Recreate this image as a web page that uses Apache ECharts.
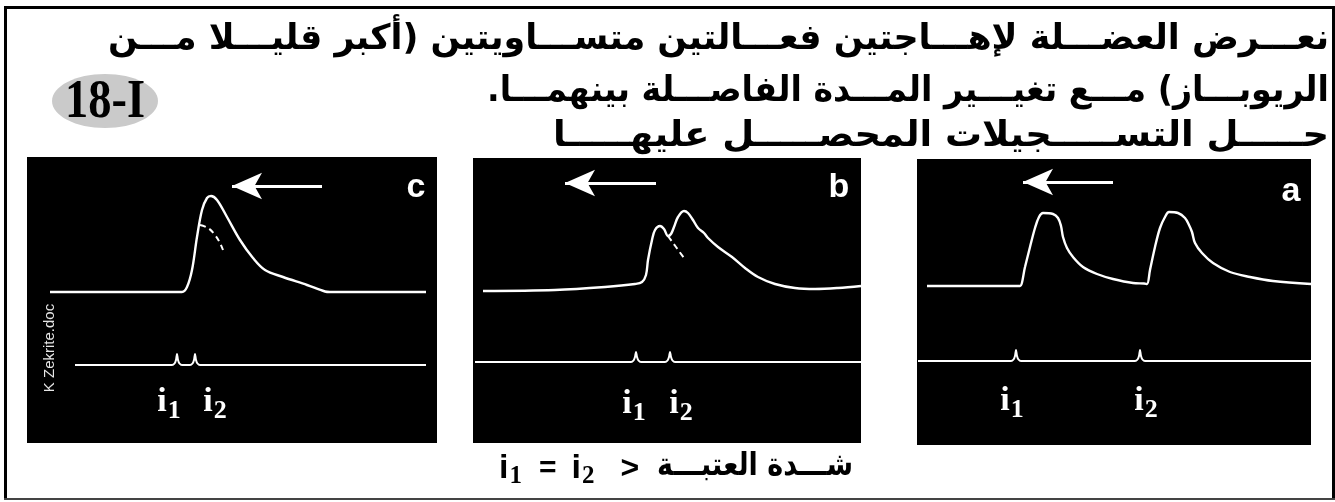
<!DOCTYPE html>
<html>
<head>
<meta charset="utf-8">
<script src="https://cdn.jsdelivr.net/npm/echarts@6/dist/echarts.min.js"></script>
<style>
  html, body { margin: 0; padding: 0; background: #fff; }
  #chart { width: 1335px; height: 502px; }
</style>
</head>
<body>
<div id="chart"></div>
<script>
// Muscle recordings: upper trace = contraction, lower trace = stimulation marks.
// Time runs along x, amplitude along y (arbitrary units, per panel).

// Panel a: two stimuli far apart -> two separate twitches
const twitchA = [[10,159],[100,159],[103,159],[108,178],[113,198],[118,217],[122,228],[126,232],[136,231],[141,227],[144,219],[146,208],[150,197],[156,188],[166,178],[180,171],[196,166],[216,162],[227,161.5],[230,161],[233,175],[238,198],[243,217],[248,228],[252,233],[261,232],[268,227],[272,220],[275,213],[278,202],[285,192],[296,182],[313,173],[333,168],[356,164],[394,161]];
const stimA = [[1,84],[94,84],[96.5,85.5],[98,89],[99,95],[100,89],[101.5,85.5],[104,84],[218,84],[220.5,85.5],[222,89],[223,95],[224,89],[225.5,85.5],[228,84],[394,84]];
const stimLabelsA = [[95,44,'1'],[229,44,'2']];
const arrowA = [196,106,263];

// Panel b: second stimulus during the first twitch -> incomplete fusion
const twitchB = [[10,152],[82,153],[132,156],[162,159],[169,161],[173,168],[175,183],[179,203],[182,213],[187,217],[191,214],[195,207],[198,209],[201,216],[205,226],[211,232],[215,230],[220,223],[225,215],[231,210],[235,205],[245,196],[259,186],[272,175],[285,166],[302,159],[322,155],[342,154],[365,155],[388,157]];
const decayB = [[195,207],[203,196],[211,185]];
const stimB = [[2,81],[158,81],[160.5,82.5],[162,86],[163,91],[164,86],[165.5,82.5],[168,81],[192,81],[194.5,82.5],[196,86],[197,91],[198,86],[199.5,82.5],[202,81],[388,81]];
const stimLabelsB = [[161,39,'1'],[208,39,'2']];
const arrowB = [183,92,260];

// Panel c: stimuli very close -> complete fusion into one larger contraction
const twitchC = [[23,151],[148,151],[155,151],[160,156],[165,173],[170,206],[175,233],[180,245],[184,247],[190,243],[200,226],[213,203],[226,185],[238,173],[256,166],[280,158],[298,151.5],[303,151],[308,151],[399,151]];
const decayC = [[173,218],[181,215],[188,208],[193,200],[196,193]];
const stimC = [[48,78],[145,78],[147.5,79.5],[149,83],[150,89],[151,83],[152.5,79.5],[155,78],[163,78],[165.5,79.5],[167,83],[168,89],[169,83],[170.5,79.5],[173,78],[399,78]];
const stimLabelsC = [[142,41,'1'],[188,41,'2']];
const arrowC = [295,205,257];

// Texts
const headerLines = [
  'نعـــرض العضـــلة لإهـــاجتين فعـــالتين متســـاويتين (أكبر قليـــلا مـــن',
  'الريوبـــاز) مـــع تغيـــير المـــدة الفاصـــلة بينهمـــا.',
  'حـــــل التســـــجيلات المحصـــــل عليهـــــا'
];
const badgeText = '18-I';
const panelLetters = ['a', 'b', 'c'];
const captionArabic = 'شـــدة العتبـــة';
const watermark = 'K Zekrite.doc';

// Panel frames (pixel boxes of the black recording areas)
const panels = [
  { left: 917, top: 159, width: 394, height: 286, twitch: twitchA, stim: stimA, labels: stimLabelsA, arrow: arrowA, letterPos: [1291, 192] },
  { left: 473, top: 158, width: 388, height: 285, twitch: twitchB, stim: stimB, labels: stimLabelsB, arrow: arrowB, decay: decayB, letterPos: [839, 188] },
  { left: 27,  top: 157, width: 410, height: 286, twitch: twitchC, stim: stimC, labels: stimLabelsC, arrow: arrowC, decay: decayC, letterPos: [416, 188] }
];

const RLM = '\u200F';
const measureCtx = document.createElement('canvas').getContext('2d');
function textWidth(text, font) {
  measureCtx.font = font;
  return measureCtx.measureText(text).width;
}
// Right-anchored text line stretched horizontally to span a given width
function fittedLine(text, font, right, y, width) {
  const s = width / textWidth(text, font);
  return { type: 'text', x: right, y: y, scaleX: s, style: { text: text, fill: '#000', font: font, align: 'right', verticalAlign: 'middle' } };
}

const chart = echarts.init(document.getElementById('chart'), null, { renderer: 'canvas' });

const grids = [], xAxes = [], yAxes = [], series = [];
panels.forEach((p, i) => {
  grids.push({ left: p.left, top: p.top, width: p.width, height: p.height, show: true, backgroundColor: '#000', borderWidth: 0 });
  xAxes.push({ type: 'value', gridIndex: i, min: 0, max: p.width, show: false, splitLine: { show: false } });
  yAxes.push({ type: 'value', gridIndex: i, min: 0, max: p.height, show: false, splitLine: { show: false } });
  series.push({
    type: 'line', xAxisIndex: i, yAxisIndex: i, data: p.twitch, showSymbol: false, symbol: 'none',
    smooth: 0.35, lineStyle: { color: '#fff', width: 2.4 }, silent: true
  });
  if (p.decay) {
    series.push({
      type: 'line', xAxisIndex: i, yAxisIndex: i, data: p.decay, showSymbol: false, symbol: 'none',
      smooth: 0.4, lineStyle: { color: '#fff', width: 2, type: [6, 4] }, silent: true
    });
  }
  series.push({
    type: 'line', xAxisIndex: i, yAxisIndex: i, data: p.stim, showSymbol: false, symbol: 'none',
    smooth: 0.3, lineStyle: { color: '#fff', width: 2 }, silent: true,
    markLine: {
      silent: true, animation: false,
      symbol: ['none', 'arrow'], symbolSize: [20, 30],
      label: { show: false },
      lineStyle: { color: '#fff', width: 3, type: 'solid' },
      data: [[{ coord: [p.arrow[0], p.arrow[2]] }, { coord: [p.arrow[1], p.arrow[2]] }]]
    }
  });
  // stimulus names i1 / i2 under the stimulation marks
  series.push({
    type: 'scatter', xAxisIndex: i, yAxisIndex: i, data: p.labels, symbolSize: 1,
    itemStyle: { color: '#000', opacity: 1 }, silent: true,
    label: {
      show: true, position: 'inside', color: '#fff', opacity: 1, textBorderWidth: 0,
      formatter: (d) => '{i|i}{s|' + d.value[2] + '}',
      rich: {
        i: { fontFamily: '"Liberation Serif", serif', fontWeight: 'bold', fontSize: 34, lineHeight: 34, color: '#fff' },
        s: { fontFamily: '"Liberation Serif", serif', fontWeight: 'bold', fontSize: 26, lineHeight: 26, color: '#fff', padding: [18, 0, 0, 1] }
      }
    }
  });
});

const headerFont = 'bold 35px "DejaVu Sans", sans-serif';
const graphics = [
  // page frame
  { type: 'rect', shape: { x: 4, y: 6, width: 3, height: 494 }, style: { fill: '#000' } },
  { type: 'rect', shape: { x: 4, y: 6, width: 1331, height: 3 }, style: { fill: '#000' } },
  { type: 'rect', shape: { x: 1332, y: 6, width: 3, height: 494 }, style: { fill: '#000' } },
  { type: 'rect', shape: { x: 4, y: 498, width: 1331, height: 2 }, style: { fill: '#444' } },
  // badge
  { type: 'ellipse', shape: { cx: 105, cy: 101, rx: 53, ry: 27 }, style: { fill: '#cacaca' } },
  { type: 'text', x: 105, y: 103, scaleX: 0.86, style: { text: badgeText, fill: '#000', font: 'bold 54px "Liberation Serif", serif', align: 'center', verticalAlign: 'middle' } },
  // watermark
  { type: 'text', x: 50, y: 348, rotation: Math.PI / 2, style: { text: watermark, fill: '#e6e6e6', font: '15px "Liberation Sans", sans-serif', align: 'center', verticalAlign: 'middle' } },
  // caption
  fittedLine(captionArabic + RLM, 'bold 32px "DejaVu Sans", sans-serif', 853, 467, 196),
  {
    type: 'text', x: 499, y: 469,
    style: {
      text: '{i|i}{s|1}{t|=}{i|i}{s|2}{g|>}', align: 'left', verticalAlign: 'middle',
      rich: {
        i: { font: 'bold 34px "Liberation Sans", sans-serif', fill: '#000', lineHeight: 34 },
        s: { font: 'bold 25px "Liberation Serif", serif', fill: '#000', lineHeight: 25, padding: [16, 0, 0, 1] },
        t: { font: 'bold 30px "Liberation Sans", sans-serif', fill: '#000', lineHeight: 30, padding: [0, 15, 0, 17] },
        g: { font: 'bold 32px "Liberation Sans", sans-serif', fill: '#000', lineHeight: 32, padding: [0, 0, 0, 26] }
      }
    }
  }
];

const headerRows = [[40, 1221], [92, 842], [137, 776]];
headerLines.forEach((t, k) => {
  graphics.push(fittedLine(RLM + t + RLM, headerFont, 1329, headerRows[k][0], headerRows[k][1]));
});

panels.forEach((p, i) => {
  graphics.push({ type: 'text', x: p.letterPos[0], y: p.letterPos[1], style: { text: panelLetters[i], fill: '#fff', font: '900 34px "Liberation Sans", sans-serif', align: 'center', verticalAlign: 'middle' } });
});

chart.setOption({
  animation: false,
  backgroundColor: '#fff',
  grid: grids,
  xAxis: xAxes,
  yAxis: yAxes,
  series: series,
  graphic: { elements: graphics }
});
</script>
</body>
</html>
